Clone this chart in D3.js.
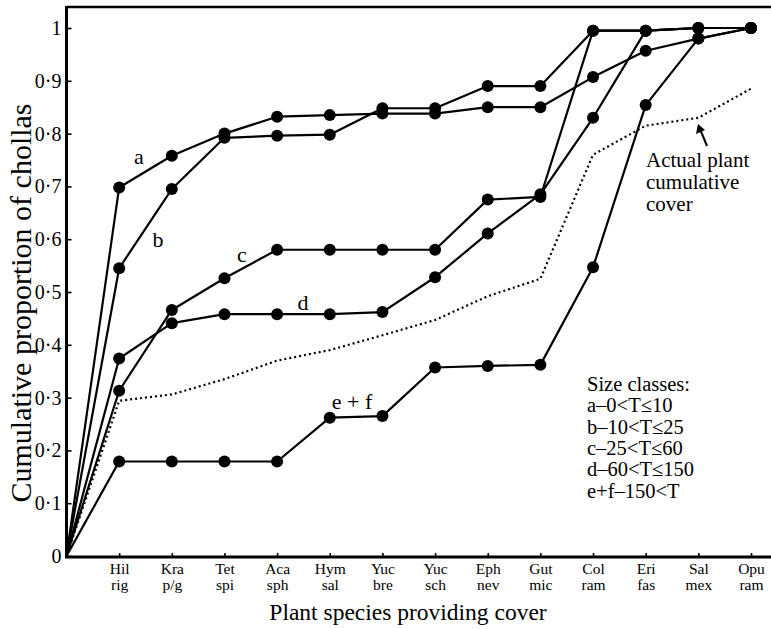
<!DOCTYPE html>
<html>
<head>
<meta charset="utf-8">
<script src="https://cdn.jsdelivr.net/npm/d3@7"></script>
<style>
  html, body { margin: 0; padding: 0; background: #fff; }
  svg { display: block; font-family: "Liberation Serif", "Times New Roman", serif; }
</style>
</head>
<body>
<svg id="chart" width="771" height="629"></svg>
<script>
// ---- data ----
const categories = ["", "Hil|rig", "Kra|p/g", "Tet|spi", "Aca|sph", "Hym|sal", "Yuc|bre", "Yuc|sch", "Eph|nev", "Gut|mic", "Col|ram", "Eri|fas", "Sal|mex", "Opu|ram"];
const seriesA  = [0, 0.698, 0.758, 0.800, 0.832, 0.835, 0.838, 0.838, 0.850, 0.850, 0.907, 0.957, 0.980, 1.000];
const seriesB  = [0, 0.545, 0.695, 0.792, 0.796, 0.798, 0.848, 0.848, 0.890, 0.890, 0.995, 0.995, 1.000, 1.000];
const seriesC  = [0, 0.313, 0.466, 0.526, 0.580, 0.580, 0.580, 0.580, 0.675, 0.680, 0.995, 0.995, 1.000, 1.000];
const seriesD  = [0, 0.374, 0.441, 0.458, 0.458, 0.458, 0.462, 0.528, 0.611, 0.685, 0.830, 0.995, 1.000, 1.000];
const seriesEF = [0, 0.179, 0.179, 0.179, 0.179, 0.262, 0.265, 0.357, 0.360, 0.362, 0.547, 0.854, 0.980, 1.000];
const actualCover = [0, 0.294, 0.306, 0.335, 0.370, 0.390, 0.418, 0.447, 0.492, 0.525, 0.760, 0.815, 0.830, 0.885];
const yTicks = [0, 0.1, 0.2, 0.3, 0.4, 0.5, 0.6, 0.7, 0.8, 0.9, 1];
const seriesLabels = ["a", "b", "c", "d", "e + f"];
const legendLines = ["Size classes:", "a\u20130<T\u226410", "b\u201310<T\u226425", "c\u201325<T\u226460", "d\u201360<T\u2264150", "e+f\u2013150<T"];
const coverNote = ["Actual plant", "cumulative", "cover"];
const xTitle = "Plant species providing cover";
const yTitle = "Cumulative proportion of chollas";

// ---- layout ----
const svg = d3.select("#chart");
const x0 = 66.5, xEnd = 751, yZero = 556, yOne = 28;
const x = d3.scaleLinear().domain([0, categories.length - 1]).range([x0, xEnd]);
const y = d3.scaleLinear().domain([0, 1]).range([yZero, yOne]);

// frame
svg.append("line").attr("x1", x0).attr("x2", 771).attr("y1", 7).attr("y2", 7)
  .attr("stroke", "#000").attr("stroke-width", 2.5);
svg.append("line").attr("x1", x0).attr("x2", x0).attr("y1", 6).attr("y2", 558)
  .attr("stroke", "#000").attr("stroke-width", 3);
svg.append("line").attr("x1", x0 - 1.5).attr("x2", 771).attr("y1", 557).attr("y2", 557)
  .attr("stroke", "#000").attr("stroke-width", 3);

// y axis
const yAxis = d3.axisLeft(y).tickValues(yTicks)
  .tickSizeInner(-5).tickSizeOuter(0).tickPadding(5)
  .tickFormat(d => d === 0 ? "0" : d === 1 ? "1" : d3.format(".1f")(d).replace(".", "\u00B7"));
const gy = svg.append("g").attr("transform", `translate(${x0},0)`).call(yAxis);
gy.select(".domain").remove();
gy.selectAll(".tick line").attr("stroke-width", 1.6);
gy.selectAll(".tick text").attr("font-size", 20).attr("font-family", "Liberation Serif").attr("fill", "#000");

// x axis
const xAxis = d3.axisBottom(x).tickValues(d3.range(1, categories.length))
  .tickSizeInner(-4).tickSizeOuter(0).tickFormat("");
const gx = svg.append("g").attr("transform", `translate(0,557)`).call(xAxis);
gx.select(".domain").remove();
gx.selectAll(".tick line").attr("stroke-width", 1.6);
gx.selectAll(".tick").each(function(i) {
  const parts = categories[i].split("|");
  const t = d3.select(this).append("text").attr("fill", "#000")
    .attr("font-size", 15.5).attr("font-family", "Liberation Serif").attr("text-anchor", "middle");
  t.append("tspan").attr("x", 0).attr("y", 17).text(parts[0]);
  t.append("tspan").attr("x", 0).attr("y", 33).text(parts[1]);
});

// axis titles
svg.append("text").attr("x", 408).attr("y", 620).attr("text-anchor", "middle")
  .attr("font-size", 23.5).text(xTitle);
svg.append("text").attr("transform", "translate(31,303) rotate(-90)").attr("text-anchor", "middle")
  .attr("font-size", 30).text(yTitle);

// dotted actual cover
const line = d3.line().x((d, i) => x(i)).y(d => y(d));
svg.append("path").datum(actualCover).attr("d", line)
  .attr("fill", "none").attr("stroke", "#000").attr("stroke-width", 2.2)
  .attr("stroke-dasharray", "2,3");

// series
const allSeries = [seriesA, seriesB, seriesC, seriesD, seriesEF];
allSeries.forEach(s => {
  svg.append("path").datum(s).attr("d", line)
    .attr("fill", "none").attr("stroke", "#000").attr("stroke-width", 2.2)
    .attr("stroke-linejoin", "round");
  svg.append("g").selectAll("circle").data(s.slice(1)).join("circle")
    .attr("cx", (d, i) => x(i + 1)).attr("cy", d => y(d)).attr("r", 6).attr("fill", "#000");
});

// series labels
const labelPos = [[139, 164], [158, 247], [242, 262], [303, 310], [352, 409]];
seriesLabels.forEach((l, i) => {
  svg.append("text").attr("x", labelPos[i][0]).attr("y", labelPos[i][1])
    .attr("text-anchor", "middle").attr("font-size", 22).text(l);
});

// cover annotation (one text block, lines as tspans)
const note = svg.append("text").attr("x", 646).attr("y", 167).attr("font-size", 21);
coverNote.forEach((t, i) => {
  note.append("tspan").attr("x", 646).attr("y", 167 + i * 21.8).text(t);
});
svg.append("line").attr("x1", 707).attr("y1", 146).attr("x2", 700).attr("y2", 129)
  .attr("stroke", "#000").attr("stroke-width", 2);
svg.append("path").attr("d", "M698,124 L696,134 L705,130 Z").attr("fill", "#000");

// legend (one text block, lines as tspans)
const legend = svg.append("text").attr("x", 587).attr("y", 391).attr("font-size", 20.5);
legendLines.forEach((t, i) => {
  legend.append("tspan").attr("x", 587).attr("y", 391 + i * 21.3).text(t);
});
</script>
</body>
</html>
